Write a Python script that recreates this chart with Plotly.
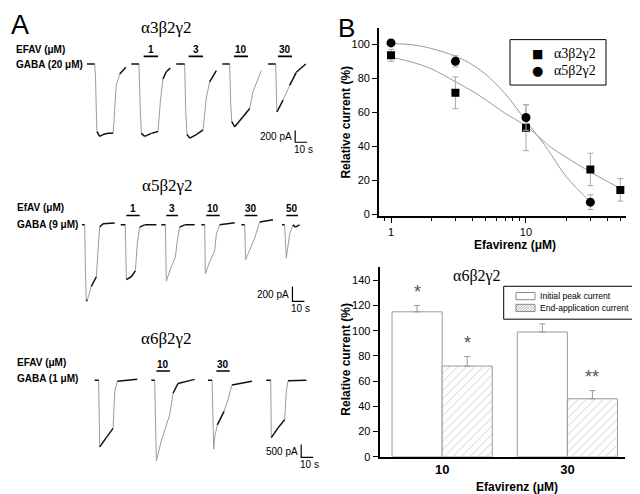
import plotly.graph_objects as go

# ---------------- Panel A : whole-cell current traces (time s, current pA) -------------
A3_T = [
    [7.5, 13.9, 14.6, 15.4, 15.8, 18.1, 20.8, 25.0, 29.2, 30.0, 30.6, 31.9, 34.8, 39.8],
    [44.4, 50.8, 51.9, 52.8, 55.6, 61.1, 66.7, 68.6, 70.8, 73.6, 76.9],
    [81.9, 88.9, 89.7, 90.8, 93.1, 98.6, 104.2, 106.9, 109.7, 115.3],
    [120.3, 126.4, 127.2, 128.1, 130.6, 137.5, 143.1, 145.8, 152.8],
    [158.3, 164.7, 165.3, 165.8, 170.8, 176.4, 181.9, 189.8],
]
A3_I = [
    [0, 0, -220, -890, -1140, -1220, -1190, -1170, -1170, -970, -750, -360, -170, -55],
    [0, 0, -750, -1170, -1220, -1170, -1140, -640, -250, -130, -70],
    [0, 0, -750, -1190, -1250, -1190, -1110, -580, -300, -110],
    [0, 0, -640, -970, -1060, -890, -750, -470, -110],
    [0, 0, -470, -810, -610, -360, -140, 0],
]
A3_ON = [54.7, 92.2, 130.0, 166.7]
A3_OFF = [66.7, 104.2, 141.7, 178.3]
A3_CONC = ["1", "3", "10", "30"]

A5_T = [
    [3.3, 5.6, 6.1, 6.9, 7.5, 11.1, 15.3, 16.7, 18.1, 20.8, 30.6],
    [35.6, 39.4, 40.3, 44.4, 47.8, 49.4, 51.4, 55.6, 65.3],
    [69.4, 72.8, 73.6, 77.8, 81.1, 82.8, 84.7, 88.9, 97.2],
    [102.8, 105.6, 106.1, 109.7, 113.9, 115.3, 118.1, 130.6],
    [136.1, 138.9, 139.7, 143.1, 147.2, 151.4, 162.5],
    [170.0, 172.2, 173.6, 176.4, 179.2, 181.1, 184.7],
]
A5_I = [
    [0, 0, -560, -1010, -1030, -830, -700, -340, -30, 15, 25],
    [0, 0, -740, -700, -620, -250, -30, 0, 0],
    [0, 0, -760, -560, -440, -210, -30, 0, 0],
    [0, 0, -660, -500, -350, -120, 0, 30],
    [0, 0, -470, -340, -180, 40, 70],
    [0, 0, -450, -120, 0, -30, 0],
]
A5_ON = [40.3, 73.6, 106.9, 138.9, 173.6]
A5_OFF = [51.4, 83.3, 118.1, 149.4, 183.3]
A5_CONC = ["1", "3", "10", "30", "50"]

A6_T = [
    [13.9, 17.2, 18.1, 23.6, 29.2, 30.6, 32.8, 49.4],
    [61.1, 63.9, 65.3, 69.4, 76.4, 79.2, 83.3, 97.2],
    [108.3, 111.7, 113.1, 114.0, 116.1, 121.7, 125.0, 126.4, 128.3, 145.0],
    [156.9, 160.6, 161.1, 166.7, 172.2, 173.6, 175.0, 190.3],
]
A6_I = [
    [0, 0, -2600, -2240, -1880, -450, -40, 30],
    [0, 0, -3140, -2370, -1350, -510, -130, 30],
    [0, 0, -2690, -2200, -1740, -1220, -760, -500, -190, -40],
    [0, 0, -2240, -1860, -1540, -450, -20, 0],
]
A6_ON = [65.3, 115.3]
A6_OFF = [76.7, 126.4]
A6_CONC = ["10", "30"]

SCALE_PA = [200, 200, 500]
SCALE_S = [10, 10, 10]

# ---------------- Panel B top : concentration-response -------------
DOSE_A3 = [1, 3, 10, 30, 50]
REL_A3 = [93.5, 71.5, 51, 26.5, 14.5]
ERR_A3 = [3.5, 9.3, 13.5, 9.5, 6.6]
DOSE_A5 = [1, 3, 10, 30]
REL_A5 = [100.8, 90, 57, 7.3]
ERR_A5 = [1, 3.3, 7.5, 4.3]
FIT_X_A3 = [1, 1.5, 2, 3, 4, 5, 7, 10, 14, 15, 20, 30, 40, 50]
FIT_Y_A3 = [92.5, 89, 85.5, 78, 72.5, 67.5, 59.5, 52, 42, 40, 33.5, 25, 19.5, 15.5]
FIT_X_A5 = [1, 1.5, 2, 3, 4, 5, 7, 10, 14, 15, 20, 30]
FIT_Y_A5 = [100.5, 99.5, 97.5, 93, 88, 82.5, 71, 55, 40, 36.5, 22, 7.5]
NAMES_B = ["α3β2γ2", "α5β2γ2"]

# ---------------- Panel B bottom : alpha6 bars -------------
CATS = ["10", "30"]
PEAK = [115, 99]
PEAK_ERR = [5, 6.5]
END = [72, 46]
END_ERR = [7.5, 6.5]
PEAK_SIG = ["*", ""]
END_SIG = ["*", "**"]
NAMES_BARS = ["Initial peak current", "End-application current"]

W, H = 640, 494
FONT = "Liberation Sans"
SERIF = "Liberation Serif"


def X(px):
    return px / W


def Y(py):
    return 1 - py / H


fig = go.Figure()
ann = []
shapes = []

rows = [
    ("x", "y", A3_T, A3_I, A3_ON, A3_OFF, A3_CONC, 128, (181, -1320), (40, 150, [-1555, 278])),
    ("x2", "y2", A5_T, A5_I, A5_ON, A5_OFF, A5_CONC, 127, (178.7, -1033), (195, 310, [-1206, 327])),
    ("x3", "y3", A6_T, A6_I, A6_ON, A6_OFF, A6_CONC, 354, (186, -3010), (355, 475, [-3781, 835])),
]
XPX_PER_S = 240 / 200.0
for k, (xa, ya, TT, II, ON, OFF, CONC, bary, corner, ybox) in enumerate(rows):
    ypx_per_pa = (ybox[1] - ybox[0]) / (ybox[2][1] - ybox[2][0])
    fx, fy, sx, sy = [], [], [], []
    for t, i in zip(TT, II):
        for a in range(len(t) - 1):
            dx = (t[a + 1] - t[a]) * XPX_PER_S
            dy = abs(i[a + 1] - i[a]) * ypx_per_pa
            if dy > 2.2 * dx and dy > 4:
                fx += [t[a], t[a + 1], None]
                fy += [i[a], i[a + 1], None]
            else:
                sx += [t[a], t[a + 1], None]
                sy += [i[a], i[a + 1], None]
    fig.add_trace(go.Scatter(x=fx, y=fy, mode="lines", xaxis=xa, yaxis=ya,
                             line=dict(color="#9c9c9c", width=1), showlegend=False,
                             hoverinfo="skip"))
    fig.add_trace(go.Scatter(x=sx, y=sy, mode="lines", xaxis=xa, yaxis=ya,
                             line=dict(color="#111", width=1.5), showlegend=False,
                             hoverinfo="skip"))
    bx, by = [], []
    for a, b in zip(ON, OFF):
        bx += [a, b, None]
        by += [bary, bary, None]
    fig.add_trace(go.Scatter(x=bx, y=by, mode="lines", xaxis=xa, yaxis=ya,
                             line=dict(color="black", width=1.6), showlegend=False,
                             hoverinfo="skip"))
    for a, b, c in zip(ON, OFF, CONC):
        ann.append(dict(x=(a + b) / 2, y=bary, xref=xa, yref=ya, text="<b>%s</b>" % c,
                        showarrow=False, yanchor="bottom", yshift=-1,
                        font=dict(family=FONT, size=10, color="black")))
    # scale bar
    t0, i0 = corner
    fig.add_trace(go.Scatter(x=[t0, t0, t0 + SCALE_S[k]], y=[i0 + SCALE_PA[k], i0, i0],
                             mode="lines", xaxis=xa, yaxis=ya,
                             line=dict(color="black", width=1.2), showlegend=False,
                             hoverinfo="skip"))
    ann.append(dict(x=t0, y=i0 + SCALE_PA[k] / 2, xref=xa, yref=ya,
                    text="%d pA" % SCALE_PA[k], showarrow=False, xanchor="right",
                    xshift=-1, font=dict(family=FONT, size=10, color="black")))
    ann.append(dict(x=t0 + SCALE_S[k] / 2, y=i0, xref=xa, yref=ya,
                    text="%d s" % SCALE_S[k], showarrow=False, yanchor="top",
                    xshift=2, font=dict(family=FONT, size=10, color="black")))

# ---- Panel B top
fig.add_trace(go.Scatter(x=FIT_X_A3, y=FIT_Y_A3, mode="lines", line=dict(color="#999", width=1,
                         shape="spline"), xaxis="x4", yaxis="y4", showlegend=False))
fig.add_trace(go.Scatter(x=FIT_X_A5, y=FIT_Y_A5, mode="lines", line=dict(color="#999", width=1,
                         shape="spline"), xaxis="x4", yaxis="y4", showlegend=False))
fig.add_trace(go.Scatter(x=DOSE_A3, y=REL_A3, mode="markers", name=NAMES_B[0],
                         marker=dict(symbol="square", size=8, color="black"),
                         error_y=dict(type="data", array=ERR_A3, color="#aaa", thickness=1, width=3),
                         xaxis="x4", yaxis="y4", showlegend=False))
fig.add_trace(go.Scatter(x=DOSE_A5, y=REL_A5, mode="markers", name=NAMES_B[1],
                         marker=dict(symbol="circle", size=9, color="black"),
                         error_y=dict(type="data", array=ERR_A5, color="#aaa", thickness=1, width=3),
                         xaxis="x4", yaxis="y4", showlegend=False))

# ---- Panel B bottom
fig.add_trace(go.Bar(x=[0, 1], y=PEAK, name=NAMES_BARS[0], offsetgroup="a",
                     marker=dict(color="white", line=dict(color="#999", width=1)),
                     error_y=dict(type="data", symmetric=False, array=PEAK_ERR, arrayminus=[0, 0],
                                  color="#999", thickness=1, width=3),
                     xaxis="x5", yaxis="y5", showlegend=False))
fig.add_trace(go.Bar(x=[0, 1], y=END, name=NAMES_BARS[1], offsetgroup="b",
                     marker=dict(color="white", line=dict(color="#999", width=1),
                                 pattern=dict(shape="/", fgcolor="#999", bgcolor="white",
                                              size=6, solidity=0.15)),
                     error_y=dict(type="data", symmetric=False, array=END_ERR, arrayminus=[0, 0],
                                  color="#999", thickness=1, width=3),
                     xaxis="x5", yaxis="y5", showlegend=False))
for j in range(2):
    for off, sig, v, e in ((-0.2, PEAK_SIG[j], PEAK[j], PEAK_ERR[j]),
                           (0.2, END_SIG[j], END[j], END_ERR[j])):
        if sig:
            ann.append(dict(x=j + off, y=v + e + 11, xref="x5", yref="y5", text=sig,
                            showarrow=False, yanchor="middle",
                            font=dict(family=FONT, size=18, color="#555")))


# ---- text labels
def lab(px, py, text, size, family=FONT, xanchor="left", angle=0, yanchor="middle", color="black"):
    ann.append(dict(x=X(px), y=Y(py), xref="paper", yref="paper", text=text, showarrow=False,
                    xanchor=xanchor, yanchor=yanchor, textangle=angle,
                    font=dict(family=family, size=size, color=color)))


def rect(x0, y0, x1, y1, line="black", fill="white", w=1):
    shapes.append(dict(type="rect", xref="paper", yref="paper", x0=X(x0), x1=X(x1),
                       y0=Y(y1), y1=Y(y0), line=dict(color=line, width=w), fillcolor=fill,
                       layer="below"))


lab(12, 0, "A", 27, xanchor="center", yanchor="top")
lab(338, 3, "B", 26, xanchor="center", yanchor="top")
lab(158, 20, "α3β2γ2", 17, SERIF, "center")
lab(159, 180, "α5β2γ2", 17, SERIF, "center")
lab(158, 335, "α6β2γ2", 17, SERIF, "center")
lab(6, 42, "<b>EFAV (μM)</b>", 10)
lab(6, 57, "<b>GABA (20 μM)</b>", 10)
lab(7, 202, "<b>EfAV (μM)</b>", 10)
lab(7, 219, "<b>GABA (9 μM)</b>", 10)
lab(7, 359, "<b>EFAV (μM)</b>", 10)
lab(7, 375, "<b>GABA (1 μM)</b>", 10)
lab(338, 116, "<b>Relative current (%)</b>", 12, xanchor="center", angle=-90)
lab(507, 240, "<b>Efavirenz (μM)</b>", 12, xanchor="center")
lab(338, 356, "<b>Relative current (%)</b>", 12, xanchor="center", angle=-90)
lab(509, 485, "<b>Efavirenz (μM)</b>", 12, xanchor="center")
lab(469, 271, "α6β2γ2", 16, SERIF, "center")

# legend of the concentration-response plot
rect(502, 32, 598, 78)
lab(529, 46.5, "■", 12, "DejaVu Sans", "center")
lab(529, 63, "●", 13, "DejaVu Sans", "center")
lab(544, 46, NAMES_B[0], 14, SERIF)
lab(544, 63, NAMES_B[1], 14, SERIF)

# legend of the bar plot
rect(495.7, 281.7, 635, 315)
rect(508, 288, 527, 295.3, line="#888")
rect(508, 300, 527, 307.3, line="#888")
hx0, hx1, htop, hbot = 508, 527, 300, 307.3
h = hbot - htop
c = hx0 - h
while c < hx1:
    xa_ = max(hx0, c)
    xb_ = min(hx1, c + h)
    if xb_ > xa_:
        shapes.append(dict(type="line", xref="paper", yref="paper",
                           x0=X(xa_), y0=Y(hbot - (xa_ - c)), x1=X(xb_), y1=Y(hbot - (xb_ - c)),
                           line=dict(color="#999", width=0.8), layer="below"))
    c += 2.6
lab(530, 291.5, NAMES_BARS[0], 8.6)
lab(530, 303.8, NAMES_BARS[1], 8.6)

hidden = dict(visible=False, fixedrange=True)
fig.update_layout(
    width=W, height=H, autosize=False, margin=dict(l=0, r=0, t=0, b=0),
    paper_bgcolor="white", plot_bgcolor="rgba(0,0,0,0)",
    font=dict(family=FONT, size=11, color="black"),
    barmode="group", bargap=0.2, bargroupgap=0, showlegend=False,
    xaxis=dict(hidden, domain=[X(70), X(310)], range=[0, 200]),
    yaxis=dict(hidden, domain=[Y(150), Y(40)], range=[-1555, 278]),
    xaxis2=dict(hidden, domain=[X(70), X(310)], range=[0, 200]),
    yaxis2=dict(hidden, domain=[Y(310), Y(195)], range=[-1206, 327]),
    xaxis3=dict(hidden, domain=[X(70), X(310)], range=[0, 200]),
    yaxis3=dict(hidden, domain=[Y(475), Y(355)], range=[-3781, 835]),
    xaxis4=dict(type="log", domain=[X(371), X(618)], range=[-0.089, 1.741], anchor="y4",
                showline=True, linecolor="black", linewidth=1.8, ticks="outside", ticklen=5,
                tickcolor="black", tickvals=[1, 10], ticktext=["1", "10"], showgrid=False,
                zeroline=False, tickfont=dict(size=11),
                minor=dict(tickvals=[0.9, 2, 3, 4, 5, 6, 7, 8, 9, 20, 30, 40, 50],
                           ticks="outside", ticklen=3, tickcolor="black", showgrid=False)),
    yaxis4=dict(domain=[Y(210.5), Y(20)], range=[-0.8, 109.7], anchor="x4",
                showline=True, linecolor="black", linewidth=1.8, ticks="outside", ticklen=5,
                tickcolor="black", tickvals=[0, 20, 40, 60, 80, 100], showgrid=False,
                zeroline=False, tickfont=dict(size=11)),
    xaxis5=dict(domain=[X(371.5), X(617)], range=[-0.5, 1.46], anchor="y5",
                showline=True, linecolor="black", linewidth=1.8, ticks="", tickvals=[0, 1],
                ticktext=["<b>%s</b>" % c for c in CATS], showgrid=False, zeroline=False,
                tickfont=dict(size=13)),
    yaxis5=dict(domain=[Y(454.3), Y(262)], range=[0, 150.7], anchor="x5",
                showline=True, linecolor="black", linewidth=1.8, ticks="outside", ticklen=5,
                tickcolor="black", dtick=20, showgrid=False, zeroline=False,
                tickfont=dict(size=11)),
    annotations=ann,
    shapes=shapes,
)

fig.write_html("out.html")
